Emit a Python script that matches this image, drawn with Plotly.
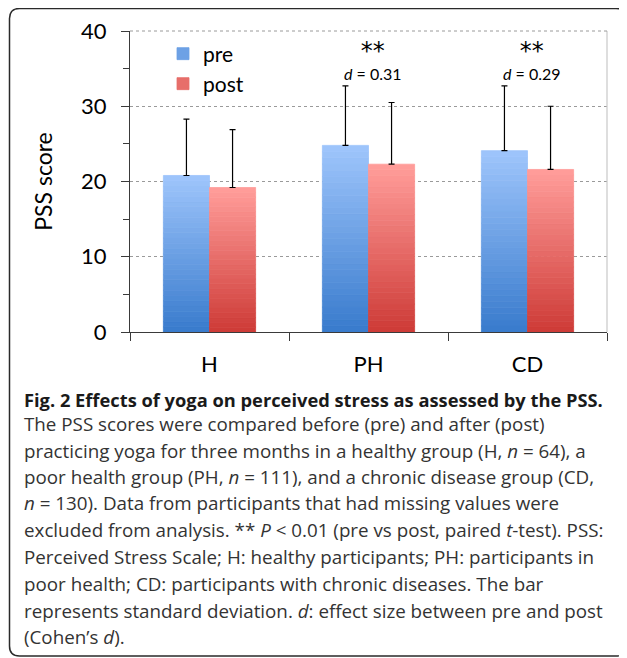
import plotly.graph_objects as go

# ---------------- data ----------------
categories = ["H", "PH", "CD"]
pre_mean = [20.8, 24.8, 24.1]
post_mean = [19.2, 22.3, 21.6]
pre_sd = [7.5, 7.9, 8.6]
post_sd = [7.7, 8.2, 8.4]
significance = ["", "**", "**"]
effect_d = ["", "0.31", "0.29"]
y_ticks = [0, 10, 20, 30, 40]

caption_lines = [
    "<b>Fig. 2 Effects of yoga on perceived stress as assessed by the PSS.</b>",
    "The PSS scores were compared before (pre) and after (post)",
    "practicing yoga for three months in a healthy group (H, <i>n</i> = 64), a",
    "poor health group (PH, <i>n</i> = 111), and a chronic disease group (CD,",
    "<i>n</i> = 130). Data from participants that had missing values were",
    "excluded from analysis. ** <i>P</i> &lt; 0.01 (pre vs post, paired <i>t</i>-test). PSS:",
    "Perceived Stress Scale; H: healthy participants; PH: participants in",
    "poor health; CD: participants with chronic diseases. The bar",
    "represents standard deviation. <i>d</i>: effect size between pre and post",
    "(Cohen\u2019s <i>d</i>).",
]

# ---------------- geometry / style ----------------
OFF = 8  # page body margin
W, H = 627 - OFF, 658 - OFF
ML, MR, MT = 130 - OFF, 20, 31 - OFF
MB = H - (332 - OFF)
PW, PH_ = W - ML - MR, H - MT - MB
FONT = "Lato"
CAP_FONT = "Open Sans"


def px_x(px):
    return (px - OFF - ML) / PW


def px_y(py):
    return (H - MB - (py - OFF)) / PH_


def lerp(c1, c2, t):
    return "rgb(%d,%d,%d)" % tuple(round(a + (b - a) * t) for a, b in zip(c1, c2))


series = [
    ("pre", pre_mean, pre_sd, (58, 124, 205), (157, 196, 251), "legend"),
    ("post", post_mean, post_sd, (206, 60, 56), (255, 156, 153), "legend2"),
]

N = 30
fig = go.Figure()
for name, vals, sds, c_bot, c_top, leg in series:
    for k in range(N):
        col = lerp(c_bot, c_top, k / (N - 1))
        fig.add_trace(go.Bar(
            x=categories,
            y=[v / N for v in vals],
            base=[v * k / N for v in vals],
            offsetgroup=name,
            marker=dict(color=col, line=dict(width=0.8, color=col)),
            name=name,
            showlegend=(k == N // 2),
            legend=leg,
            hoverinfo="skip",
        ))
    # transparent full bar carrying the error bars
    fig.add_trace(go.Bar(
        x=categories,
        y=vals,
        offsetgroup=name,
        marker=dict(color="rgba(0,0,0,0)", line=dict(width=0)),
        error_y=dict(type="data", symmetric=False, array=sds,
                     arrayminus=[0] * len(sds), color="black",
                     thickness=1.2, width=3),
        showlegend=False,
        name=name,
    ))

annotations = []
for cat, sig, d in zip(categories, significance, effect_d):
    if sig or d:
        txt = ("<span style='font-family:DejaVu Sans;font-size:24px'>" + sig +
               "</span><br><i>d</i> = " + d)
        annotations.append(dict(x=cat, y=36.1, xref="x", yref="y", text=txt,
                                showarrow=False, xshift=4, align="center",
                                font=dict(family=FONT, size=16, color="black")))

baselines = [405, 430, 457, 483, 509, 536, 563, 590, 617, 643]
for i, (line, b) in enumerate(zip(caption_lines, baselines)):
    annotations.append(dict(
        x=px_x(22), y=px_y(b - 6), xref="paper", yref="paper",
        xanchor="left", yanchor="middle", showarrow=False, text=line,
        font=dict(family=CAP_FONT, size=18.3 if i == 0 else 18.8,
                  color="#1a1a1a" if i == 0 else "#333333"),
    ))

# rounded outer frame
x0, x1, y0, y1, r = px_x(9.5), px_x(626), px_y(8.5), px_y(656), 10
rx, ry = r / PW, r / PH_
frame_path = (
    f"M {x0 + rx},{y0} L {x1 - rx},{y0} Q {x1},{y0} {x1},{y0 - ry} "
    f"L {x1},{y1 + ry} Q {x1},{y1} {x1 - rx},{y1} "
    f"L {x0 + rx},{y1} Q {x0},{y1} {x0},{y1 + ry} "
    f"L {x0},{y0 - ry} Q {x0},{y0} {x0 + rx},{y0} Z"
)

shapes = [
    dict(type="path", path=frame_path, xref="paper", yref="paper",
         line=dict(color="#2a2a2a", width=1.5), layer="below"),
    dict(type="line", xref="paper", yref="paper", x0=1, x1=1, y0=0, y1=1,
         line=dict(color="#c8c8c8", width=1.2)),
    dict(type="line", xref="paper", yref="paper", x0=0, x1=1, y0=1, y1=1,
         line=dict(color="#9a9a9a", width=1, dash="dot")),
]

fig.update_layout(
    width=W, height=H,
    margin=dict(l=ML, r=MR, t=MT, b=MB, autoexpand=False),
    paper_bgcolor="white", plot_bgcolor="white",
    barmode="group", bargap=0.42, bargroupgap=0,
    font=dict(family=FONT, color="black"),
    annotations=annotations,
    shapes=shapes,
    legend=dict(x=px_x(163), y=px_y(54), xanchor="left", yanchor="middle",
                bgcolor="rgba(0,0,0,0)", font=dict(size=21, family=FONT)),
    legend2=dict(x=px_x(163), y=px_y(84), xanchor="left", yanchor="middle",
                 bgcolor="rgba(0,0,0,0)", font=dict(size=21, family=FONT)),
    xaxis=dict(
        showline=True, linecolor="#3a3a3a", linewidth=1.2,
        ticks="outside", tickson="boundaries", ticklen=8, tickcolor="#3a3a3a",
        tickfont=dict(size=22, family=FONT, color="black"),
        ticklabelstandoff=12, showgrid=False,
    ),
    yaxis=dict(
        range=[0, 40], tickvals=y_ticks, showline=True, linecolor="#3a3a3a",
        linewidth=1.2, ticks="outside", ticklen=8, tickcolor="#3a3a3a",
        tickfont=dict(size=22, family=FONT, color="black"),
        ticklabelstandoff=10,
        showgrid=True, gridcolor="#9a9a9a", griddash="dot", gridwidth=1,
        zeroline=False,
        minor=dict(dtick=5, ticks="outside", ticklen=6, tickcolor="#3a3a3a",
                   showgrid=False),
        title=dict(text="PSS score", font=dict(size=23, family=FONT, color="black"),
                   standoff=21),
        automargin=False,
    ),
)

fig.write_html("out.html")
